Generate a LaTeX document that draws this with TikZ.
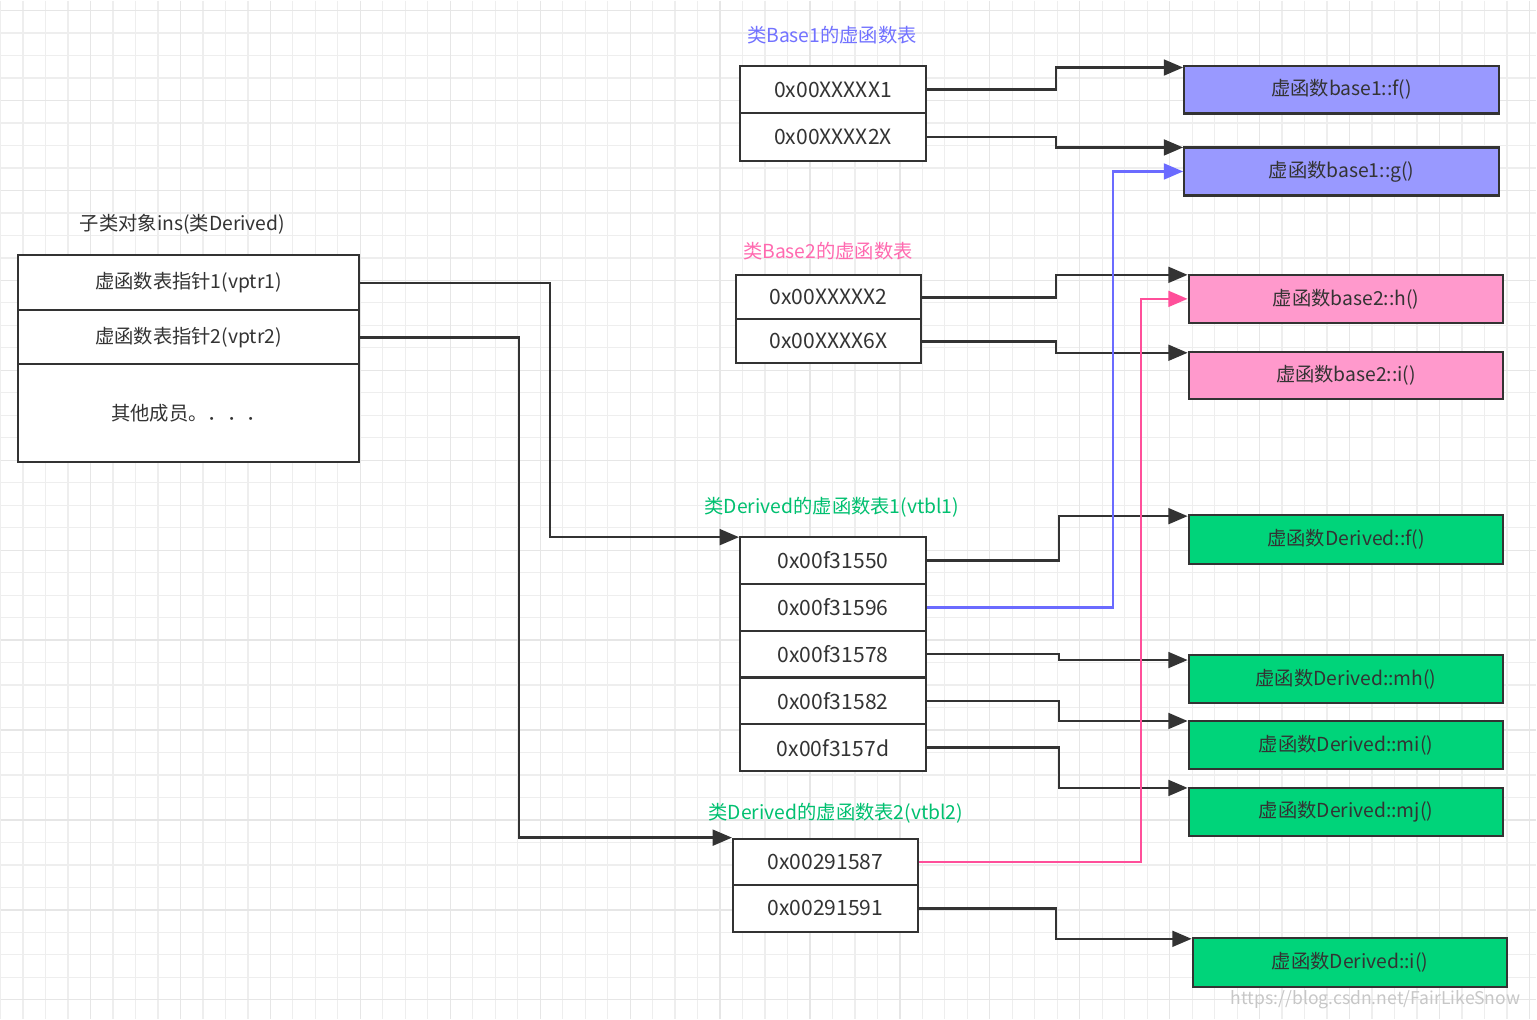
\documentclass[tikz,border=0pt]{standalone}
\usepackage{fontspec}
\setmainfont{Noto Sans CJK SC}
\usepackage{tikz}
\usetikzlibrary{arrows.meta, positioning, calc}
\usepackage{xcolor}

\definecolor{inkc}{HTML}{333333}
\definecolor{gridminor}{HTML}{EEEEEE}
\definecolor{gridmajor}{HTML}{E6E6E6}
\definecolor{baseblue}{HTML}{9999FF}
\definecolor{basepink}{HTML}{FF99CC}
\definecolor{derivgreen}{HTML}{00D47A}
\definecolor{lineblue}{HTML}{6B6BFF}
\definecolor{linepink}{HTML}{FF4F9A}
\definecolor{lblblue}{HTML}{7272FF}
\definecolor{lblpink}{HTML}{FF6AB0}
\definecolor{lblgreen}{HTML}{00C070}

\newcommand\addrfont{\fontsize{12}{14}\selectfont}
\newcommand\lblfont{\fontsize{11}{13}\selectfont}

\begin{document}
\begin{tikzpicture}[x=0.02cm, y=-0.02cm,
    slot/.style={draw=inkc, line width=1.2pt, fill=white, inner sep=0pt,
      text=inkc, font=\addrfont},
    func/.style={draw=inkc, line width=1.2pt, inner sep=0pt, text=inkc,
      minimum width=6.3cm, minimum height=0.96cm, font=\lblfont},
    title/.style={font=\lblfont, inner sep=1pt},
    arr/.style={draw=inkc, line width=1.4pt, -{Triangle[length=11pt,width=9pt]}}]

  % paper and grid
  \fill[white] (0,0) rectangle (1537,1019);
  \foreach \i in {0,...,68}
    \draw[gridminor, line width=0.7pt] ({22.5*\i},0) -- ({22.5*\i},1019);
  \foreach \j in {0,...,44}
    \draw[gridminor, line width=0.7pt] (0,{10+22.5*\j}) -- (1537,{10+22.5*\j});
  \foreach \i in {1,...,17}
    \draw[gridmajor, line width=0.7pt] ({90*\i},0) -- ({90*\i},1019);
  \foreach \j in {0,...,11}
    \draw[gridmajor, line width=0.7pt] (0,{10+90*\j}) -- (1537,{10+90*\j});
  \useasboundingbox (0,0) rectangle (1537,1019);

  % object of class Derived
  \node[title, text=inkc] (objtitle) at (182,224) {子类对象ins(类Derived)};
  \node[slot, font=\lblfont, minimum width=6.84cm, minimum height=1.1cm]
    (vptr1) at (188,282.5) {虚函数表指针1(vptr1)};
  \node[slot, font=\lblfont, minimum width=6.84cm, minimum height=1.08cm]
    (vptr2) at (188,337) {虚函数表指针2(vptr2)};
  \node[slot, font=\lblfont, minimum width=6.84cm, minimum height=1.96cm]
    (others) at (188,413) {其他成员。．．．};

  % vtable of Base1
  \node[title, text=lblblue] (b1title) at (832,35) {类Base1的虚函数表};
  \node[slot, minimum width=3.72cm, minimum height=0.95cm] (b1a) at (833,89) {0x00XXXXX1};
  \node[slot, minimum width=3.72cm, minimum height=0.95cm] (b1b) at (833,136.5) {0x00XXXX2X};

  % vtable of Base2
  \node[title, text=lblpink] (b2title) at (828,251) {类Base2的虚函数表};
  \node[slot, minimum width=3.7cm, minimum height=0.88cm] (b2a) at (828.5,297) {0x00XXXXX2};
  \node[slot, minimum width=3.7cm, minimum height=0.88cm] (b2b) at (828.5,341) {0x00XXXX6X};

  % vtbl1 of Derived
  \node[title, text=lblgreen] (d1title) at (832,507) {类Derived的虚函数表1(vtbl1)};
  \foreach \addr [count=\k] in {0x00f31550,0x00f31596,0x00f31578,0x00f31582,0x00f3157d}
    \node[slot, minimum width=3.72cm, minimum height=0.936cm]
      (d\k) at (833,{537+46.8*(\k-0.5)}) {\addr};

  % vtbl2 of Derived
  \node[title, text=lblgreen] (e0title) at (836,813) {类Derived的虚函数表2(vtbl2)};
  \node[slot, minimum width=3.7cm, minimum height=0.93cm] (e1) at (825.5,862) {0x00291587};
  \node[slot, minimum width=3.7cm, minimum height=0.93cm] (e2) at (825.5,908.5) {0x00291591};

  % virtual functions
  \node[func, fill=baseblue] (bf) at (1342,89) {虚函数base1::f()};
  \node[func, fill=baseblue] (bg) at (1342,171) {虚函数base1::g()};
  \node[func, fill=basepink] (bh) at (1346.5,298.5) {虚函数base2::h()};
  \node[func, fill=basepink, minimum height=0.94cm] (bi) at (1346.5,375) {虚函数base2::i()};
  \node[func, fill=derivgreen, minimum height=0.98cm] (df) at (1346.5,539.5) {虚函数Derived::f()};
  \node[func, fill=derivgreen] (dmh) at (1346.5,679) {虚函数Derived::mh()};
  \node[func, fill=derivgreen] (dmi) at (1346.5,745) {虚函数Derived::mi()};
  \node[func, fill=derivgreen] (dmj) at (1346.5,812) {虚函数Derived::mj()};
  \node[func, fill=derivgreen, minimum height=0.98cm] (di) at (1350.5,962.5) {虚函数Derived::i()};

  % pointers from the object
  \draw[arr] (vptr1.east) -- ++(190,0) |- ($(d1.north west)+(0,1)$);
  \draw[arr] (vptr2.east) -- ++(159,0) |- (e1.north west);

  % Base1 and Base2 slots
  \draw[arr] (b1a.east) -- ++(129,0) |- ($(bf.north west)+(0,3)$);
  \draw[arr] (b1b.east) -- ++(129,0) |- ($(bg.north west)+(0,1)$);
  \draw[arr] (b2a.east) -- ++(134,0) |- ($(bh.north west)+(0,1)$);
  \draw[arr] (b2b.east) -- ++(134,0) |- ($(bi.north west)+(0,2)$);

  % vtbl1 slots
  \draw[arr] (d1.east) -- ++(132,0) |- ($(df.north west)+(0,2)$);
  \draw[arr, draw=lineblue] (d2.east) -- ++(186,0) |- (bg.west);
  \draw[arr] (d3.east) -- ++(132,0) |- ($(dmh.north west)+(0,6)$);
  \draw[arr] (d4.east) -- ++(132,0) |- ($(dmi.north west)+(0,1)$);
  \draw[arr] (d5.east) -- ++(132,0) |- ($(dmj.north west)+(0,1)$);

  % vtbl2 slots
  \draw[arr, draw=linepink] (e1.east) -- ++(222,0) |- (bh.west);
  \draw[arr] (e2.east) -- ++(137,0) |- ($(di.north west)+(0,2)$);

  \node[anchor=east, text=black!22, font=\fontsize{10}{12}\selectfont]
    (mark) at (1527,1000) {https://blog.csdn.net/FairLikeSnow};
\end{tikzpicture}
\end{document}
